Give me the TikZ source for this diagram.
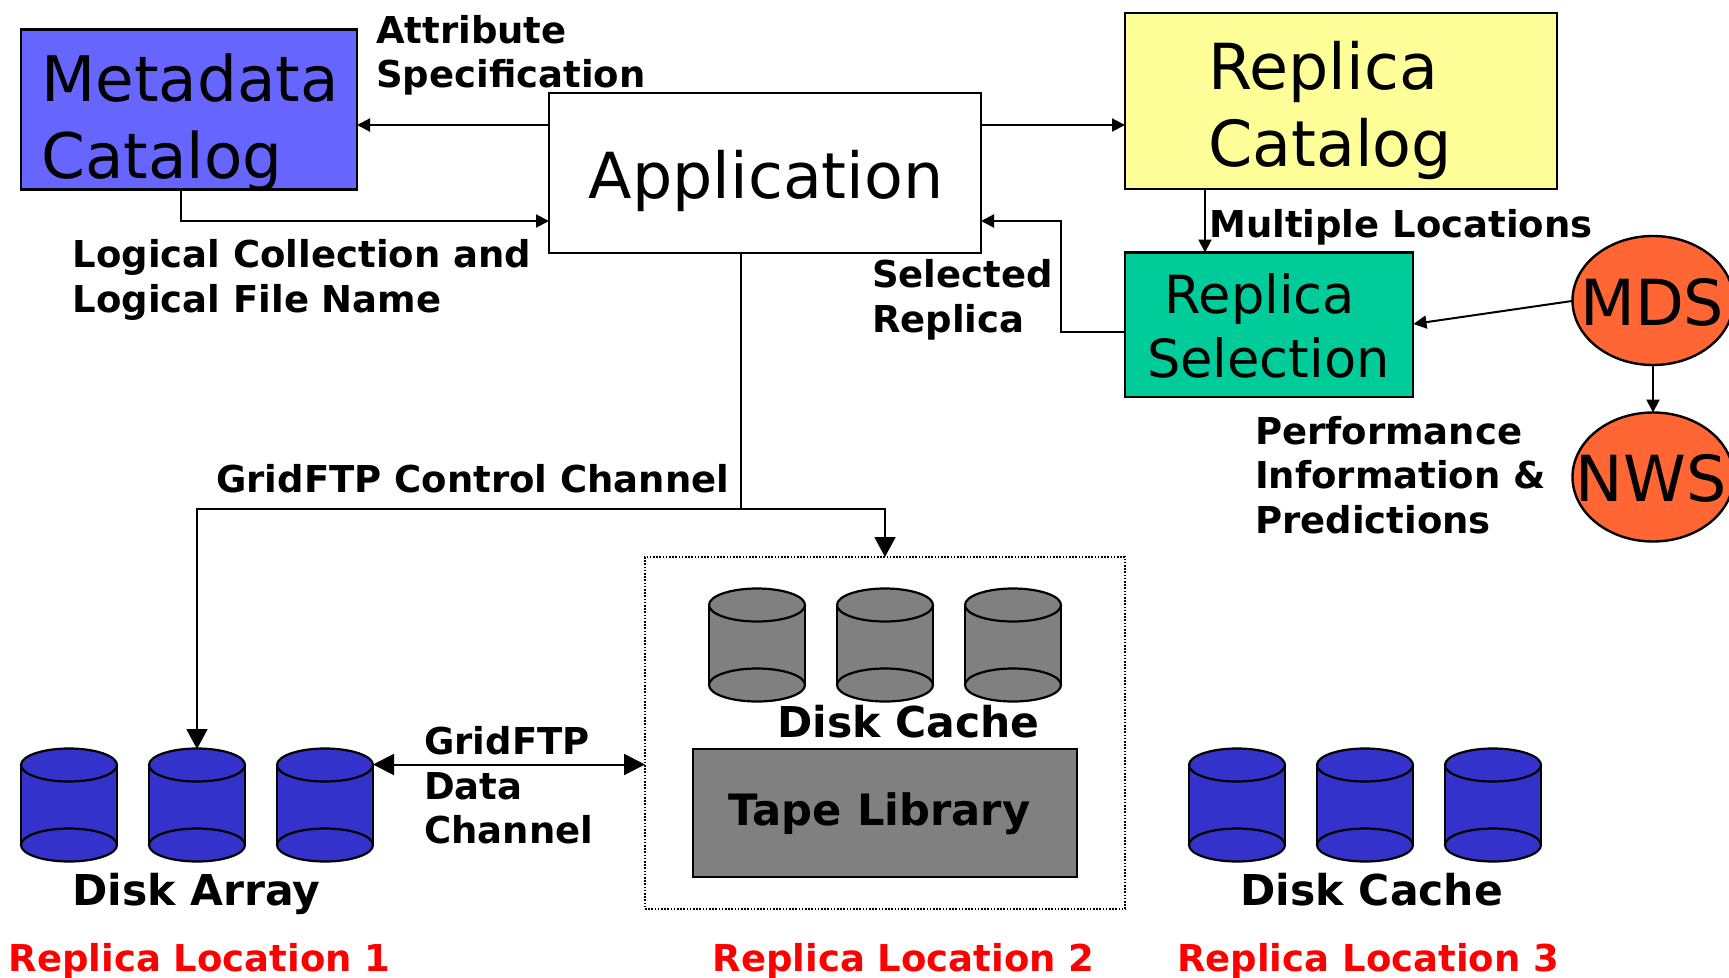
\documentclass[tikz,border=0pt]{standalone}
\usepackage{fontspec}
\setmainfont{DejaVu Sans}
\usetikzlibrary{arrows.meta,shapes.geometric}
\definecolor{metaC}{HTML}{6666FF}
\definecolor{catC}{HTML}{FFFF99}
\definecolor{selC}{HTML}{00CC99}
\definecolor{orC}{HTML}{FF6633}
\definecolor{blueC}{HTML}{3333CC}
\definecolor{grayC}{HTML}{808080}
\newcommand\bigf{\fontsize{63.5}{76.5}\selectfont}
\newcommand\metaF{\fontsize{62.8}{76.5}\selectfont}
\newcommand\selF{\fontsize{52.6}{64}\selectfont}
\newcommand\labF{\fontsize{37}{44.3}\bfseries\selectfont}
\newcommand\headF{\fontsize{42.5}{50}\bfseries\selectfont}
\newcommand\tapeF{\fontsize{43.2}{50}\bfseries\selectfont}
\tikzset{
  x=1pt,y=-1pt,
  boxS/.style={draw=black,line width=2.4pt,inner sep=0pt,outer sep=0pt},
  bigT/.style={anchor=base west,align=left,inner sep=0pt,font=\bigf},
  selT/.style={anchor=base west,align=left,inner sep=0pt,font=\selF},
  labT/.style={anchor=base west,align=left,inner sep=0pt,font=\labF},
  headT/.style={anchor=base west,align=left,inner sep=0pt,font=\headF},
  redT/.style={labT,text=red},
  conn/.style={draw=black,line width=2pt},
  sm/.style={conn,-{Triangle[length=13pt,width=13pt]}},
  lg/.style={conn,-{Triangle[length=20pt,width=21pt]}},
  lgboth/.style={conn,{Triangle[length=21pt,width=21pt]}-{Triangle[length=21pt,width=21pt]}},
  drumbox/.style={inner sep=0pt,outer sep=0pt,minimum width=96pt,minimum height=112pt},
  drumS/.style={draw=black,line width=2.2pt},
}
% name, centre x, centre y, fill
\newcommand\drum[4]{%
  \node[drumbox] (#1) at (#2,#3) {};
  \fill[#4] (#2-48,#3-40) rectangle (#2+48,#3+40);
  \draw[drumS,fill=#4] (#2,#3+40) ellipse [x radius=48pt,y radius=16.5pt];
  \draw[drumS,fill=#4] (#2,#3-40) ellipse [x radius=48pt,y radius=16.5pt];
  \draw[drumS] (#2-48,#3-40) -- (#2-48,#3+40) (#2+48,#3-40) -- (#2+48,#3+40);
}
\begin{document}
\begin{tikzpicture}
\useasboundingbox (0,0) rectangle (1729,977);
\fill[white] (0,0) rectangle (1729,977);

% boxes
\node[boxS,fill=metaC,minimum width=336pt,minimum height=160pt] (meta) at (189,109.5) {};
\node[boxS,fill=white,minimum width=432pt,minimum height=160pt] (app) at (765,173) {};
\node[boxS,fill=catC,minimum width=432pt,minimum height=176.5pt] (cat) at (1341,101) {};
\node[boxS,fill=selC,minimum width=288pt,minimum height=144.5pt] (sel) at (1269,324.75) {};
\node[ellipse,boxS,fill=orC,minimum width=161pt,minimum height=129pt] (mds) at (1653,300.5) {};
\node[ellipse,boxS,fill=orC,minimum width=161pt,minimum height=129pt] (nws) at (1653,477) {};
\node[draw=black,line width=1.6pt,dash pattern=on 1.6pt off 1.6pt,inner sep=0pt,outer sep=0pt,minimum width=480pt,minimum height=352pt] (loc2) at (885,733) {};
\node[boxS,fill=grayC,minimum width=384pt,minimum height=128pt] (tape) at (885,813) {};

% drums
\drum{a1}{69}{805}{blueC}
\drum{a2}{197}{805}{blueC}
\drum{a3}{325}{805}{blueC}
\drum{g1}{757}{645}{grayC}
\drum{g2}{885}{645}{grayC}
\drum{g3}{1013}{645}{grayC}
\drum{c1}{1237}{805}{blueC}
\drum{c2}{1365}{805}{blueC}
\drum{c3}{1493}{805}{blueC}

% text
\node[bigT,font=\metaF] (tMeta) at (41,178) {Metadata\\Catalog};
\node[bigT] (tApp) at (588.5,198.5) {Application};
\node[bigT] (tCat) at (1208,166) {Replica\\Catalog};
\node[selT] (tSel1) at (1164.5,313) {Replica};
\node[selT] (tSel2) at (1147,377) {Selection};
\node[bigT] (tMds) at (1580,325) {MDS};
\node[bigT] (tNws) at (1575.5,501.7) {NWS};

\node[labT] (lAttr) at (376,87.5) {Attribute\\Specification};
\node[labT] (lLog) at (72.5,312) {Logical Collection and\\Logical File Name};
\node[labT] (lMult) at (1209,237) {Multiple Locations};
\node[labT] (lSel) at (872,332) {Selected\\Replica};
\node[labT] (lPerf) at (1255,533) {Performance\\Information \&\\Predictions};
\node[labT] (lCtl) at (216,492) {GridFTP Control Channel};
\node[labT] (lData) at (424,843.5) {GridFTP\\Data\\Channel};
\node[headT] (lArr) at (72,905) {Disk Array};
\node[headT] (lDc2) at (777,737) {Disk Cache};
\node[headT,font=\tapeF] (lTape) at (728.5,825) {Tape Library};
\node[headT] (lDc3) at (1240.5,905) {Disk Cache};
\node[redT] (r1) at (8.5,971.5) {Replica Location 1};
\node[redT] (r2) at (712.5,971.5) {Replica Location 2};
\node[redT] (r3) at (1177,971.5) {Replica Location 3};

% connectors
\coordinate (y125) at (0,125);
\coordinate (y221) at (0,221);
\coordinate (xLog) at (181,0);
\coordinate (xCat) at (1205,0);
\coordinate (jSel) at (1061,332);
\coordinate (xApp) at (741,0);
\coordinate (yCtl) at (0,508.5);
\coordinate (ySel) at (0,332);
\coordinate (mdsOut) at (1572,301);
\coordinate (selIn) at (1413.5,324);
\coordinate (yData) at (0,764.5);

\draw[sm] (app.west |- y125) -- (meta.east |- y125);
\draw[sm] (app.east |- y125) -- (cat.west |- y125);
\draw[sm] (meta.south -| xLog) |- (app.west |- y221);
\draw[sm] (cat.south -| xCat) -- (sel.north -| xCat);
\draw[sm] (sel.west |- ySel) -- (jSel) |- (app.east |- y221);
\draw[sm] (mdsOut) -- (selIn);
\draw[sm] (mds.south) -- (nws.north);
\draw[conn] (app.south -| xApp) -- (xApp |- yCtl);
\draw[lg] (xApp |- yCtl) -| (loc2.north);
\draw[lg] (xApp |- yCtl) -| (a2.north);
\draw[lgboth] (a3.east |- yData) -- (loc2.west |- yData);
\end{tikzpicture}
\end{document}
